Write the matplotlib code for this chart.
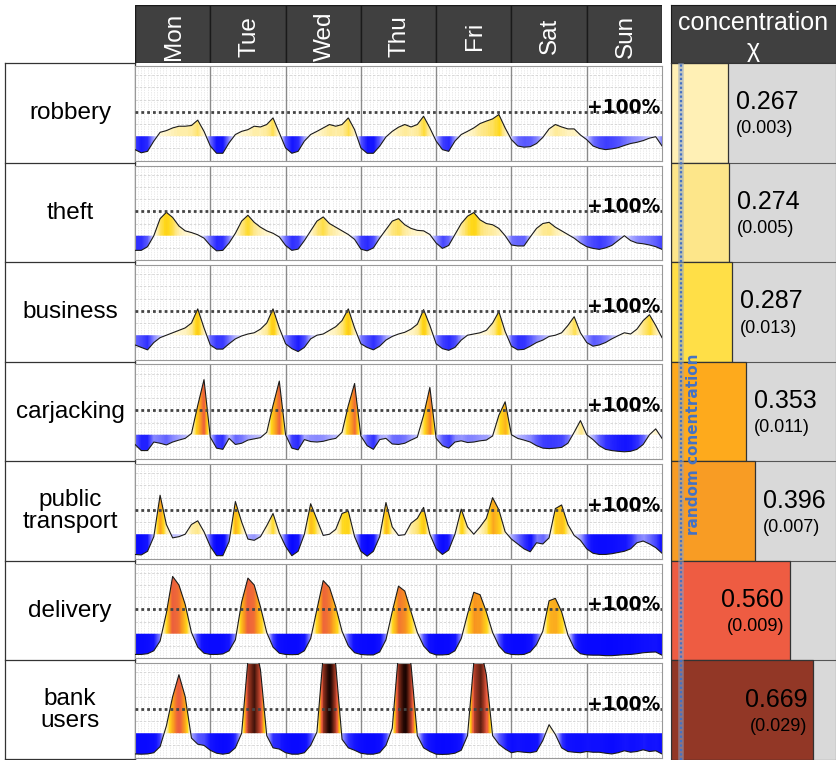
import numpy as np
import matplotlib.pyplot as plt
from matplotlib.colors import LinearSegmentedColormap, TwoSlopeNorm
from matplotlib.patches import Rectangle

plt.rcParams['font.family'] = ['Liberation Sans', 'DejaVu Sans']

W, H = 836, 760

days = ['Mon', 'Tue', 'Wed', 'Thu', 'Fri', 'Sat', 'Sun']
categories = ['robbery', 'theft', 'business', 'carjacking',
              'public\ntransport', 'delivery', 'bank\nusers']
concentration = [0.267, 0.274, 0.287, 0.353, 0.396, 0.560, 0.669]
conc_err = [0.003, 0.005, 0.013, 0.011, 0.007, 0.009, 0.029]
random_conc = 0.046
bar_colors = ['#FFF0B5', '#FDE68A', '#FFDF47', '#FEAA1C',
              '#F89C24', '#EE5C42', '#923726']

# deviation from the weekly mean (1.0 = +100%), every 2 hours, Mon 00h .. Sun 24h
hours = np.arange(0, 169, 2)
robbery = [
    -0.55, -0.68, -0.62, -0.20, 0.16, 0.23, 0.34, 0.41, 0.41, 0.44, 0.66, 0.20,
    -0.40, -0.70, -0.70, -0.27, 0.07, 0.20, 0.27, 0.41, 0.38, 0.48, 0.75, 0.14,
    -0.48, -0.70, -0.62, -0.20, 0.07, 0.20, 0.34, 0.48, 0.41, 0.48, 0.75, 0.27,
    -0.48, -0.70, -0.70, -0.41, -0.03, 0.20, 0.37, 0.48, 0.38, 0.48, 0.82, 0.34,
    -0.20, -0.55, -0.62, -0.20, 0.07, 0.20, 0.34, 0.52, 0.62, 0.71, 0.89, 0.34,
    -0.14, -0.40, -0.45, -0.43, -0.30, -0.05, 0.30, 0.48, 0.38, 0.30, 0.30, 0.05,
    -0.14, -0.40, -0.50, -0.55, -0.52, -0.47, -0.38, -0.30, -0.25, -0.18, -0.08, -0.02,
    -0.40]
theft = [
    -0.60, -0.60, -0.45, 0.00, 0.70, 0.96, 0.75, 0.40, 0.20, 0.13, 0.04, -0.10,
    -0.40, -0.62, -0.60, -0.30, 0.10, 0.60, 0.84, 0.55, 0.35, 0.20, 0.10, -0.05,
    -0.40, -0.60, -0.55, -0.20, 0.20, 0.60, 0.77, 0.50, 0.35, 0.20, 0.05, -0.15,
    -0.55, -0.62, -0.50, -0.10, 0.25, 0.60, 0.70, 0.45, 0.30, 0.22, 0.20, 0.05,
    -0.30, -0.52, -0.40, 0.05, 0.50, 0.80, 0.95, 0.65, 0.50, 0.45, 0.30, 0.00,
    -0.38, -0.42, -0.42, -0.05, 0.30, 0.50, 0.55, 0.35, 0.20, 0.05, -0.10, -0.30,
    -0.45, -0.52, -0.56, -0.50, -0.40, -0.20, 0.00, -0.20, -0.30, -0.33, -0.38, -0.45,
    -0.56]
business = [
    -0.40, -0.50, -0.60, -0.30, -0.10, 0.00, 0.10, 0.20, 0.30, 0.50, 1.08, 0.30,
    -0.40, -0.57, -0.57, -0.35, -0.15, -0.03, 0.05, 0.10, 0.25, 0.50, 1.08, 0.30,
    -0.35, -0.55, -0.67, -0.50, -0.15, 0.00, 0.05, 0.20, 0.35, 0.60, 1.08, 0.30,
    -0.35, -0.50, -0.60, -0.45, -0.20, -0.05, 0.05, 0.12, 0.25, 0.45, 1.05, 0.40,
    -0.35, -0.55, -0.62, -0.50, -0.20, 0.00, 0.05, 0.10, 0.20, 0.50, 0.97, 0.15,
    -0.45, -0.60, -0.58, -0.45, -0.30, -0.20, -0.05, 0.00, 0.10, 0.40, 0.76, 0.10,
    -0.30, -0.45, -0.40, -0.30, -0.15, -0.02, 0.10, 0.05, 0.25, 0.60, 0.84, 0.40,
    -0.10]
carjacking = [
    -0.40, -0.65, -0.65, -0.30, -0.35, -0.42, -0.30, -0.22, -0.15, 0.05, 1.20, 2.26,
    -0.10, -0.55, -0.60, -0.15, -0.40, -0.35, -0.22, -0.17, -0.12, 0.10, 1.20, 2.20,
    0.00, -0.55, -0.62, -0.20, -0.28, -0.30, -0.27, -0.20, -0.15, 0.10, 1.20, 2.10,
    -0.05, -0.45, -0.60, -0.20, -0.15, -0.38, -0.40, -0.35, -0.22, -0.10, 0.80, 1.94,
    -0.15, -0.45, -0.55, -0.30, -0.25, -0.32, -0.30, -0.25, -0.22, -0.05, 0.80, 1.35,
    0.00, -0.15, -0.22, -0.30, -0.45, -0.55, -0.57, -0.55, -0.52, -0.35, 0.10, 0.58,
    0.00, -0.20, -0.45, -0.60, -0.65, -0.68, -0.70, -0.68, -0.60, -0.40, 0.00, 0.24,
    -0.15]
public_transport = [
    -0.83, -0.85, -0.70, -0.10, 1.60, 0.40, -0.15, -0.10, 0.00, 0.40, 0.55, 0.10,
    -0.50, -0.88, -0.88, -0.30, 1.34, 0.50, -0.20, -0.25, -0.10, 0.35, 0.85, 0.05,
    -0.50, -0.88, -0.70, 0.00, 1.25, 0.60, -0.05, 0.00, 0.20, 0.85, 0.95, -0.10,
    -0.70, -0.90, -0.70, -0.10, 1.30, 0.30, -0.05, -0.02, 0.45, 0.65, 1.10, 0.00,
    -0.60, -0.83, -0.65, 0.00, 1.03, 0.30, 0.00, 0.30, 0.65, 1.50, 1.00, 0.10,
    -0.20, -0.40, -0.60, -0.72, -0.35, -0.40, -0.15, 1.05, 1.20, 0.40, -0.05, -0.25,
    -0.60, -0.78, -0.83, -0.83, -0.80, -0.75, -0.70, -0.60, -0.35, -0.28, -0.40, -0.55,
    -0.78]
delivery = [
    -0.85, -0.85, -0.82, -0.70, -0.30, 0.85, 2.35, 2.00, 1.20, 0.05, -0.55, -0.80,
    -0.85, -0.85, -0.83, -0.70, -0.25, 1.30, 2.28, 2.00, 1.10, 0.05, -0.55, -0.80,
    -0.85, -0.86, -0.85, -0.70, -0.20, 1.00, 2.18, 1.90, 1.10, 0.10, -0.50, -0.78,
    -0.85, -0.87, -0.87, -0.75, -0.25, 0.90, 1.95, 1.75, 0.90, 0.05, -0.50, -0.78,
    -0.87, -0.87, -0.85, -0.70, -0.20, 0.80, 1.70, 1.60, 0.90, 0.05, -0.50, -0.78,
    -0.85, -0.86, -0.85, -0.75, -0.45, 0.10, 1.35, 1.45, 0.90, -0.05, -0.60, -0.82,
    -0.87, -0.88, -0.88, -0.90, -0.90, -0.88, -0.86, -0.85, -0.82, -0.78, -0.76, -0.75,
    -0.88]
bank_users = [
    -0.85, -0.86, -0.85, -0.80, -0.55, 0.30, 1.50, 2.40, 1.50, -0.20, -0.45, -0.50,
    -0.70, -0.82, -0.86, -0.82, -0.60, 0.00, 3.00, 3.80, 2.60, -0.10, -0.60, -0.65,
    -0.80, -0.86, -0.86, -0.80, -0.50, 0.05, 3.20, 4.30, 2.80, -0.25, -0.60, -0.70,
    -0.82, -0.86, -0.86, -0.80, -0.50, 0.20, 3.30, 4.30, 2.80, -0.10, -0.60, -0.75,
    -0.86, -0.87, -0.86, -0.82, -0.70, -0.10, 2.90, 3.60, 2.40, -0.10, -0.45, -0.65,
    -0.80, -0.75, -0.78, -0.80, -0.75, -0.30, 0.35, -0.05, -0.60, -0.75, -0.78, -0.80,
    -0.75, -0.78, -0.78, -0.82, -0.85, -0.80, -0.72, -0.78, -0.75, -0.68, -0.75, -0.72,
    -0.85]
curves = [robbery, theft, business, carjacking, public_transport, delivery, bank_users]

# blue below the mean, cream -> yellow -> orange -> red -> black above it
vmin, vmax = -1.0, 4.5
neg = [(-1.0, '#0000FF'), (-0.7, '#1515FF'), (-0.45, '#5A5AFF'),
       (-0.2, '#A8A8FF'), (-0.001, '#EEEEFF')]
pos = [(0.001, '#FFFDF0'), (0.3, '#FFF3C0'), (0.6, '#FEE680'), (0.9, '#FFD81A'),
       (1.3, '#FDB81E'), (1.7, '#F89520'), (2.1, '#F06A38'), (2.5, '#E85A40'),
       (3.0, '#A63A25'), (3.5, '#6A2314'), (4.0, '#2A0A05'), (4.5, '#100000')]
nodes = [(0.5 * (v - vmin) / -vmin, c) for v, c in neg] + \
        [(0.5 + 0.5 * v / vmax, c) for v, c in pos]
cmap = LinearSegmentedColormap.from_list('deviation', nodes)
norm = TwoSlopeNorm(vmin=vmin, vcenter=0.0, vmax=vmax)

YMIN, YMAX = -1.0, 2.88


def frac(x0, y0, x1, y1):
    return [x0 / W, 1 - y1 / H, (x1 - x0) / W, (y1 - y0) / H]


fig = plt.figure(figsize=(W / 100, H / 100), dpi=100)

bg = fig.add_axes([0, 0, 1, 1], zorder=-5)
bg.set_xlim(0, W)
bg.set_ylim(H, 0)
bg.axis('off')

row0, row_h = 63.3, 99.5
line_kw = dict(color='#333333', lw=0.9)
for k in range(8):
    yb = min(row0 + row_h * k, H - 0.8)
    bg.plot([5, 135], [yb, yb], **line_kw)
bg.plot([5, 5], [row0, H], **line_kw)
bg.plot([135, 135], [row0, H], **line_kw)
for i, name in enumerate(categories):
    bg.text(70, row0 + row_h * (i + 0.5), name, ha='center', va='center',
            fontsize=17.5, linespacing=1.0)

# day header
hx = fig.add_axes(frac(135, 5.3, 662, 62.5))
hx.set_xlim(0, 168)
hx.set_ylim(0, 1)
hx.axis('off')
for d, day in enumerate(days):
    hx.add_patch(Rectangle((24 * d, 0), 24, 1, facecolor='#404040',
                           edgecolor='#1a1a1a', lw=1))
    hx.text(24 * d + 12.4, 0.46, day, rotation=90, ha='center', va='center',
            color='white', fontsize=17.5)

# hourly profiles
for i, vals in enumerate(curves):
    top = row0 + row_h * i + 2.7
    bot = row0 + row_h * (i + 1) - 2.2
    ax = fig.add_axes(frac(135, top, 662, bot))
    y = np.array(vals)
    for h in range(1, 168):
        ax.axvline(h, color='#e2e2e2', lw=0.5, ls=(0, (2, 1.5)), zorder=0)
    for g in [-0.5, 0.5, 1.5, 2.0, 2.5]:
        ax.axhline(g, color='#d2d2d2', lw=0.6, ls=(0, (3, 2)), zorder=0)
    for d in range(1, 7):
        ax.axvline(24 * d, color='#8a8a8a', lw=1.0, zorder=1)
    poly = ax.fill_between(hours, y, 0, facecolor='none', edgecolor='none')
    img = ax.imshow(np.repeat(y[None, :], 2, axis=0), cmap=cmap, norm=norm,
                    extent=(-1, 169, YMIN, YMAX), aspect='auto',
                    interpolation='bilinear', interpolation_stage='data',
                    zorder=2)
    img.set_clip_path(poly.get_paths()[0], transform=ax.transData)
    ax.plot(hours, y, color='#1a1a1a', lw=0.8, zorder=3)
    ax.axhline(1.0, color='#444444', lw=2.0, ls=(0, (1, 1.1)), zorder=4)
    ax.text(167.5, 0.97, '+100%', ha='right', va='baseline', fontsize=13.5,
            fontweight='bold', family='DejaVu Sans', zorder=5)
    ax.set_xlim(0, 168)
    ax.set_ylim(YMIN, YMAX)
    ax.set_xticks([])
    ax.set_yticks([])
    for s in ax.spines.values():
        s.set_color('#999999')
        s.set_linewidth(0.8)

# concentration header
rx = fig.add_axes(frac(671, 5.3, 836, 62.5))
rx.set_facecolor('#404040')
rx.set_xticks([])
rx.set_yticks([])
for s in rx.spines.values():
    s.set_color('#1a1a1a')
rx.text(0.5, 0.69, 'concentration', transform=rx.transAxes, ha='center',
        va='center', color='white', fontsize=18)
rx.text(0.5, 0.22, 'χ', transform=rx.transAxes, ha='center', va='center',
        color='white', fontsize=18)

# concentration bars
bx = fig.add_axes(frac(671, row0, 836, H))
bx.set_facecolor('#D9D9D9')
rows = np.arange(len(concentration))
bx.barh(rows, concentration, height=1.0, color=bar_colors,
        edgecolor='#333333', lw=0.9, zorder=2)
for k in range(len(rows) - 1):
    bx.axhline(k + 0.5, color='#555555', lw=0.8, zorder=1)
bx.axvline(random_conc, color='#8fa3c6', lw=4, alpha=0.55, zorder=3)
bx.axvline(random_conc, color='#4472C4', lw=1.6, ls=(0, (1, 1)), zorder=4)
bx.text(0.105, 3.33, 'random conentration', rotation=90, ha='center',
        va='center', color='#4472C4', fontsize=11, fontweight='bold',
        family='DejaVu Sans', zorder=5)
for i, (v, e) in enumerate(zip(concentration, conc_err)):
    if v < 0.5:
        x, ha = v + 0.038, 'left'
    else:
        x, ha = v - 0.028, 'right'
    bx.text(x, i - 0.107, f'{v:.3f}', ha=ha, va='center', fontsize=18, zorder=5)
    bx.text(x, i + 0.16, f'({e:.3f})', ha=ha, va='center', fontsize=13, zorder=5)
bx.set_xlim(0, 0.777)
bx.set_ylim(len(rows) - 0.5, -0.5)
bx.set_xticks([])
bx.set_yticks([])
for s in bx.spines.values():
    s.set_color('#333333')

fig.savefig('out.png', dpi=100)
